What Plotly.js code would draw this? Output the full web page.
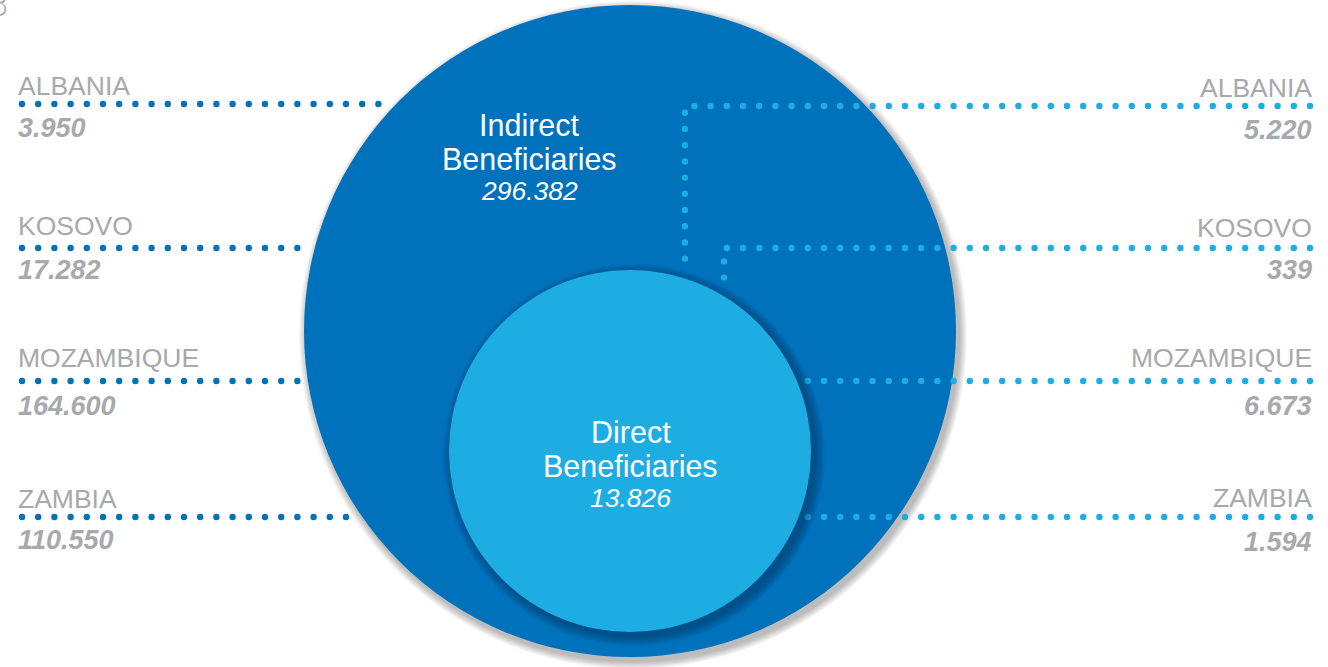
<!DOCTYPE html>
<html>
<head>
<meta charset="utf-8">
<script src="https://cdn.plot.ly/plotly-3.0.1.min.js"></script>
<style>
  html, body { margin: 0; padding: 0; background: #ffffff; }
  #chart { width: 1328px; height: 667px; }
  .js-line { stroke-linecap: round !important; stroke-linejoin: round !important; }
</style>
</head>
<body>
<div id="chart"></div>
<script>
// ---------------- DATA ----------------
const countries = ['ALBANIA', 'KOSOVO', 'MOZAMBIQUE', 'ZAMBIA'];
const indirectValues = [3950, 17282, 164600, 110550];
const directValues = [5220, 339, 6673, 1594];
const groupNames = ['Indirect', 'Direct'];
const groupSubtitle = 'Beneficiaries';
const groupTotals = [296382, 13826];
const pageNumber = '3';

// ---------------- LAYOUT / STYLE ----------------
const W = 1328, H = 667;
const DARK = '#0071bb';
const LIGHT = '#1eade3';
const GREY = '#a7a9ac';
const FONT = 'Liberation Sans, Arial, Helvetica, sans-serif';

const bigCircle = { cx: 630, cy: 331, r: 326 };
const smallCircle = { cx: 630, cy: 451, r: 181 };

const leftLineY = [104, 248, 381, 517];
const leftNameY = [86, 226, 358, 499];
const leftValueY = [128, 270, 406, 540];
const rightLineY = [106, 248, 381, 517];
const rightNameY = [88, 228, 358, 498];
const rightValueY = [130, 270, 406, 542];
const leftStartX = 22, rightEndX = 1310;
const rightCorner = [[685, 272], [724, 287], null, null];

function fmt(n) {
  return String(n).replace(/\B(?=(\d{3})+(?!\d))/g, '.');
}

const dotLine = (color) => ({ color: color, width: 6.4, dash: '0px,16.2px' });

const traces = [];
// left leader lines (end at the big circle's edge)
leftLineY.forEach((y) => {
  const dy = y - bigCircle.cy;
  const edge = bigCircle.cx - Math.sqrt(bigCircle.r * bigCircle.r - dy * dy);
  traces.push({
    type: 'scatter', mode: 'lines', x: [leftStartX, edge - 2], y: [y, y],
    line: dotLine(DARK), hoverinfo: 'skip', showlegend: false
  });
});
// right leader lines (drawn above big circle, below small circle)
rightLineY.forEach((y, i) => {
  const c = rightCorner[i];
  let xs, ys;
  if (c) { xs = [rightEndX, c[0], c[0]]; ys = [y, y, c[1]]; }
  else { xs = [rightEndX, smallCircle.cx]; ys = [y, y]; }
  traces.push({
    type: 'scatter', mode: 'lines', x: xs, y: ys,
    line: dotLine(LIGHT), hoverinfo: 'skip', showlegend: false
  });
});

// shapes
const shapes = [];
function circ(c, fill, layer, dx, dy, dr) {
  return {
    type: 'circle', xref: 'x', yref: 'y', layer: layer,
    x0: c.cx + dx - c.r - dr, x1: c.cx + dx + c.r + dr,
    y0: c.cy + dy - c.r - dr, y1: c.cy + dy + c.r + dr,
    fillcolor: fill, line: { width: 0 }
  };
}
for (let i = 8; i >= 1; i--) {
  shapes.push(circ(bigCircle, 'rgba(0,0,0,0.035)', 'below', 3, 4, i));
}
shapes.push(circ(bigCircle, DARK, 'below', 0, 0, 0));
for (let i = 10; i >= 1; i--) {
  shapes.push(circ(smallCircle, 'rgba(0,20,60,0.04)', 'above', 4, 4, i));
}
shapes.push(circ(smallCircle, LIGHT, 'above', 0, 0, 0));

// annotations
const annotations = [];
function ann(text, x, y, xanchor, size, color, extra) {
  return Object.assign({
    text: text, x: x, y: y, xref: 'x', yref: 'y', xanchor: xanchor, yanchor: 'middle',
    showarrow: false, font: { family: FONT, size: size, color: color }, borderpad: 0
  }, extra || {});
}
countries.forEach((name, i) => {
  annotations.push(ann(name, 17, leftNameY[i], 'left', 26.5, GREY));
  annotations.push(ann('<b><i>' + fmt(indirectValues[i]) + '</i></b>', 17, leftValueY[i], 'left', 27, GREY));
  annotations.push(ann(name, 1313, rightNameY[i], 'right', 26.5, GREY));
  annotations.push(ann('<b><i>' + fmt(directValues[i]) + '</i></b>', 1313, rightValueY[i], 'right', 27, GREY));
});
// group labels
const groupCenters = [[529.5, 125, 159, 191], [630.5, 432, 466, 498]];
groupNames.forEach((g, i) => {
  const c = groupCenters[i];
  annotations.push(ann(g, c[0], c[1], 'center', 30.5, '#ffffff'));
  annotations.push(ann(groupSubtitle, c[0], c[2], 'center', 30.5, '#ffffff'));
  annotations.push(ann('<i>' + fmt(groupTotals[i]) + '</i>', c[0], c[3], 'center', 26.5, '#ffffff'));
});
annotations.push(ann(pageNumber, 10, 5, 'right', 32, '#a8a8a8', { font: { family: 'DejaVu Sans, sans-serif', size: 32, color: '#a8a8a8', weight: 200 } }));

const layout = {
  width: W, height: H,
  margin: { l: 0, r: 0, t: 0, b: 0, pad: 0 },
  paper_bgcolor: '#ffffff', plot_bgcolor: '#ffffff',
  xaxis: { range: [0, W], visible: false, fixedrange: true },
  yaxis: { range: [H, 0], visible: false, fixedrange: true },
  shapes: shapes,
  annotations: annotations,
  showlegend: false,
  hovermode: false
};

Plotly.newPlot('chart', traces, layout, { staticPlot: true, displayModeBar: false });
</script>
</body>
</html>
